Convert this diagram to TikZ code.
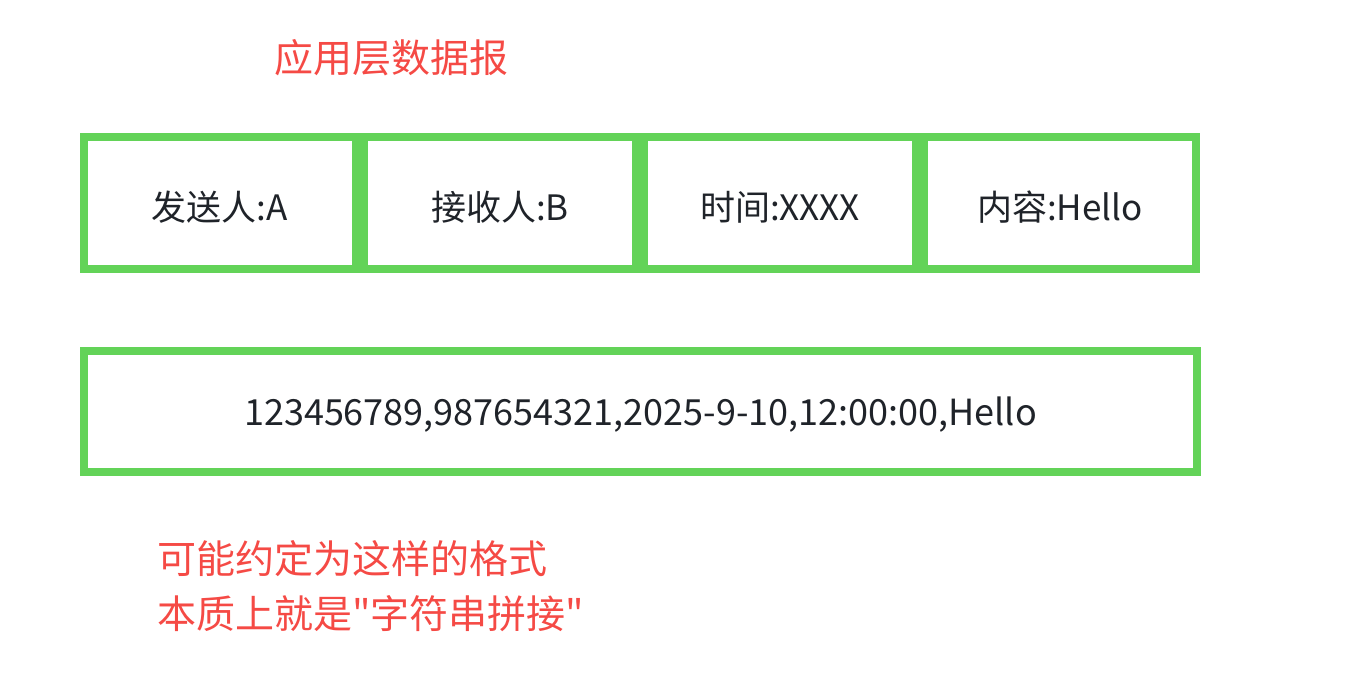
\documentclass[tikz,border=0pt]{standalone}
\usepackage{fontspec}
\setmainfont{Noto Sans CJK SC}
\font\notefont="Noto Sans CJK SC" at 39pt
\usetikzlibrary{positioning}
\definecolor{boxgreen}{RGB}{99,211,88}
\definecolor{notered}{RGB}{245,74,69}
\definecolor{textdark}{RGB}{31,35,41}
\begin{document}
\begin{tikzpicture}[x=1pt, y=-1pt,
  field/.style={draw=boxgreen, line width=8pt, minimum width=272pt, minimum height=132pt,
    inner sep=0pt, text=textdark, text height=36pt, text depth=2pt,
    font=\fontsize{35}{40}\selectfont},
  note/.style={text=notered, font=\notefont, inner sep=0pt}]
\useasboundingbox (0,0) rectangle (1362,672);
% title
\node[note] (title) at (391,58) {应用层数据报};
% fields of the datagram
\node[field] (sender) at (220,203.3) {发送人:A};
\node[field, right=0pt of sender] (receiver) {接收人:B};
\node[field, right=0pt of receiver] (time) {时间:XXXX};
\node[field, right=0pt of time] (content) {内容:Hello};
% serialized string
\node[field, minimum width=1113pt, minimum height=120.5pt, text height=29pt, text depth=1pt,
  font=\fontsize{36}{40}\selectfont] (packet) at (640.5,411.7)
  {123456789,987654321,2025-9-10,12:00:00,Hello};
% remark
\node[note, anchor=base west] (remark1) at (157,573) {可能约定为这样的格式};
\node[note, anchor=base west] (remark2) at (157,628) {本质上就是"字符串拼接"};
\end{tikzpicture}
\end{document}
